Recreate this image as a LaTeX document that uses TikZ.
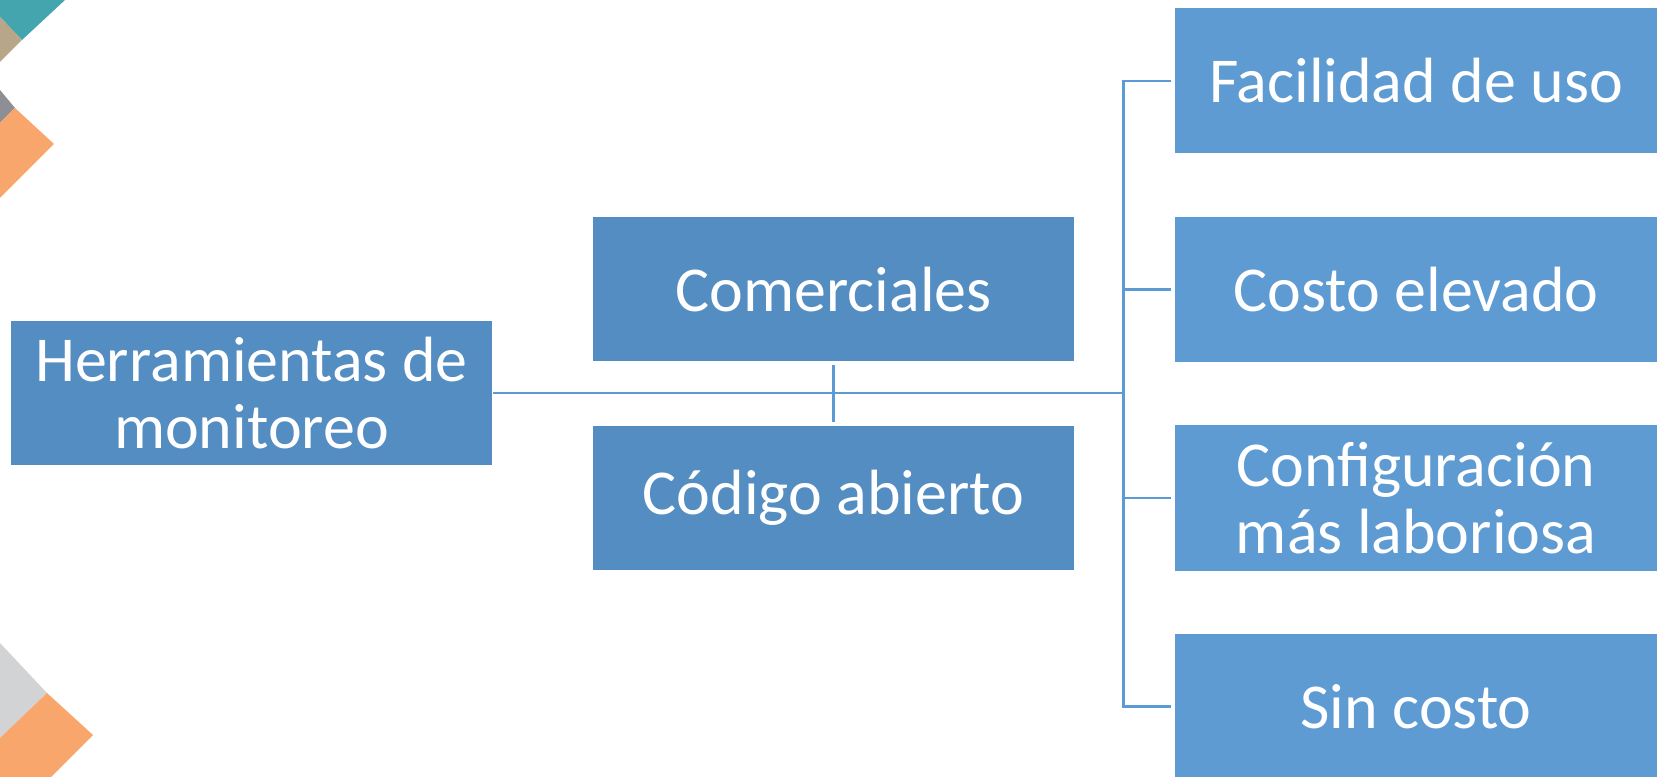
\documentclass[tikz,border=0pt]{standalone}
\usepackage{fontspec}
\setmainfont{Carlito}
\usepackage{tikz}
\usetikzlibrary{positioning}
\usetikzlibrary{calc}

\definecolor{mainblue}{HTML}{548DC2}
\definecolor{lightblue}{HTML}{5E9BD3}
\definecolor{linkblue}{HTML}{5B9BD5}
\definecolor{decoteal}{HTML}{45A5AE}
\definecolor{decotan}{HTML}{B9A588}
\definecolor{decogrey}{HTML}{8E8F94}
\definecolor{decoorange}{HTML}{F9A66C}
\definecolor{decolight}{HTML}{D2D3D5}

\begin{document}
\begin{tikzpicture}[node distance=4.17cm, on grid,
        box/.style={rectangle, fill=mainblue, text=white, align=center, inner sep=0pt,
            minimum width=9.63cm, minimum height=2.88cm,
            font=\fontsize{36.4}{38}\selectfont},
        leaf/.style={box, fill=lightblue, minimum height=2.9cm},
        link/.style={draw=linkblue, line width=1.7pt}]
        \useasboundingbox (0,0) rectangle (33.14,-15.54);

        % corner decoration
        \fill[decoteal] (0,0) -- (1.3,0) -- (0.44,-0.8) -- (0,-0.34) -- cycle;
        \fill[decotan] (0,-0.34) -- (0.44,-0.8) -- (0,-1.24) -- cycle;
        \fill[decogrey] (0,-1.8) -- (0.3,-2.16) -- (0,-2.46) -- cycle;
        \fill[decoorange] (0,-2.46) -- (0.3,-2.16) -- (1.08,-2.88) -- (0,-3.96) -- cycle;
        \fill[decolight] (0,-12.86) -- (0.94,-13.86) -- (0,-14.76) -- cycle;
        \fill[decoorange] (0,-14.76) -- (0.94,-13.86) -- (1.86,-14.7) -- (1.02,-15.54) -- (0,-15.54) -- cycle;

        \node[box] (herr) at (5.03,-7.86) {Herramientas de\\monitoreo};
        \node[box] (com) [above right=2.07cm and 11.64cm of herr] {Comerciales};
        \node[box] (cod) [below=of com] {Código abierto};
        \node[leaf] (costo) [right=11.65cm of com] {Costo elevado};
        \node[leaf] (facil) [above=of costo] {Facilidad de uso};
        \node[leaf] (config) [below=of costo] {Configuración\\más laboriosa};
        \node[leaf] (sin) [below=of config] {Sin costo};
        \coordinate (bus) at (22.47,-7.86);

        \path[link]
            (herr.east) -- (bus)
            ([yshift=-0.07cm]com.south) -- ([yshift=0.07cm]cod.north)
            ([xshift=-0.08cm]facil.west) -| (bus) |- ([xshift=-0.08cm]sin.west)
            ([xshift=-0.08cm]costo.west) -- (costo.west -| bus)
            ([xshift=-0.08cm]config.west) -- (config.west -| bus);
      \end{tikzpicture}
\end{document}
